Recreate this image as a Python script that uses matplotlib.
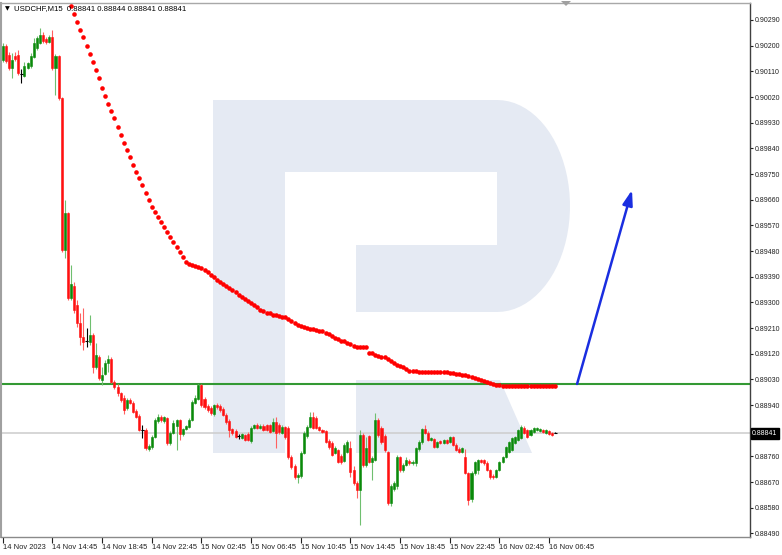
import matplotlib
matplotlib.use("Agg")
import matplotlib.pyplot as plt
import numpy as np
from matplotlib.patches import Polygon
from matplotlib.transforms import blended_transform_factory

plt.rcParams["font.family"] = ["Liberation Sans", "DejaVu Sans"]

# ---------------- data ----------------
symbol_title = "USDCHF,M15"
ohlc_last = "0.88841 0.88844 0.88841 0.88841"

opens = [0.90150,0.90199,0.90167,0.90122,0.90164,0.90167,0.90101,0.90094,0.90122,0.90129,
0.90160,0.90192,0.90209,0.90237,0.90223,0.90213,0.90230,0.90122,0.90164,0.90016,
0.89484,0.89613,0.89315,0.89357,0.89291,0.89228,0.89178,0.89165,0.89161,0.89186,
0.89073,0.89108,0.89028,0.89049,0.89087,0.89101,0.89021,0.89003,0.88982,0.88965,
0.88930,0.88958,0.88947,0.88919,0.88902,0.88853,0.88853,0.88786,0.88793,0.88828,
0.88884,0.88898,0.88884,0.88895,0.88807,0.88842,0.88867,0.88888,0.88839,0.88856,
0.88863,0.88888,0.88947,0.88961,0.89010,0.88961,0.88937,0.88930,0.88909,0.88940,
0.88937,0.88926,0.88905,0.88884,0.88856,0.88849,0.88832,0.88825,0.88835,0.88839,
0.88814,0.88860,0.88870,0.88860,0.88867,0.88870,0.88870,0.88849,0.88881,0.88870,
0.88842,0.88863,0.88860,0.88758,0.88726,0.88688,0.88691,0.88772,0.88832,0.88863,
0.88898,0.88895,0.88863,0.88853,0.88849,0.88814,0.88807,0.88772,0.88782,0.88761,
0.88744,0.88775,0.88789,0.88712,0.88667,0.88642,0.88835,0.88730,0.88832,0.88740,
0.88747,0.88888,0.88860,0.88832,0.88775,0.88597,0.88646,0.88656,0.88758,0.88712,
0.88730,0.88744,0.88737,0.88737,0.88786,0.88810,0.88856,0.88842,0.88818,0.88821,
0.88793,0.88814,0.88807,0.88818,0.88810,0.88828,0.88800,0.88786,0.88775,0.88758,
0.88702,0.88611,0.88702,0.88712,0.88747,0.88747,0.88737,0.88712,0.88691,0.88688,
0.88712,0.88740,0.88758,0.88775,0.88782,0.88807,0.88818,0.88825,0.88860,0.88853,
0.88835,0.88846,0.88853,0.88849,0.88853,0.88842,0.88849,0.88842,0.88841]

highs = [0.90209,0.90206,0.90178,0.90174,0.90178,0.90185,0.90118,0.90143,0.90143,0.90174,
0.90227,0.90234,0.90262,0.90248,0.90230,0.90237,0.90255,0.90171,0.90167,0.90020,
0.89659,0.89617,0.89431,0.89371,0.89308,0.89263,0.89280,0.89210,0.89256,0.89193,
0.89157,0.89115,0.89073,0.89098,0.89115,0.89108,0.89028,0.89014,0.88986,0.88975,
0.88965,0.88965,0.88954,0.88926,0.88909,0.88870,0.88860,0.88804,0.88835,0.88895,
0.88909,0.88905,0.88902,0.88898,0.88849,0.88888,0.88891,0.88891,0.88860,0.88870,
0.88895,0.88958,0.88975,0.89014,0.89014,0.88968,0.88944,0.88937,0.88944,0.88947,
0.88944,0.88933,0.88912,0.88891,0.88860,0.88856,0.88839,0.88842,0.88839,0.88846,
0.88867,0.88874,0.88877,0.88874,0.88874,0.88874,0.88874,0.88895,0.88898,0.88877,
0.88870,0.88867,0.88867,0.88765,0.88733,0.88702,0.88779,0.88849,0.88870,0.88916,
0.88916,0.88902,0.88867,0.88856,0.88853,0.88821,0.88814,0.88796,0.88786,0.88768,
0.88807,0.88818,0.88814,0.88726,0.88674,0.88853,0.88842,0.88828,0.88835,0.88761,
0.88912,0.88895,0.88867,0.88839,0.88779,0.88663,0.88674,0.88765,0.88761,0.88737,
0.88758,0.88751,0.88747,0.88793,0.88818,0.88860,0.88870,0.88849,0.88828,0.88825,
0.88814,0.88818,0.88821,0.88821,0.88832,0.88832,0.88807,0.88793,0.88793,0.88786,
0.88705,0.88709,0.88744,0.88751,0.88751,0.88751,0.88744,0.88716,0.88698,0.88716,
0.88744,0.88761,0.88796,0.88814,0.88828,0.88832,0.88856,0.88870,0.88867,0.88856,
0.88856,0.88863,0.88863,0.88860,0.88856,0.88856,0.88853,0.88846,0.88844]

lows = [0.90143,0.90139,0.90115,0.90087,0.90146,0.90097,0.90069,0.90090,0.90118,0.90122,
0.90157,0.90185,0.90206,0.90209,0.90206,0.90209,0.90115,0.90027,0.90009,0.89477,
0.89456,0.89308,0.89308,0.89263,0.89214,0.89150,0.89133,0.89143,0.89150,0.89052,
0.89066,0.89028,0.89010,0.89045,0.89056,0.89017,0.88996,0.88972,0.88951,0.88909,
0.88923,0.88944,0.88912,0.88895,0.88849,0.88825,0.88782,0.88779,0.88786,0.88825,
0.88877,0.88881,0.88877,0.88800,0.88800,0.88839,0.88782,0.88818,0.88832,0.88853,
0.88860,0.88884,0.88944,0.88958,0.88933,0.88926,0.88916,0.88905,0.88902,0.88926,
0.88916,0.88902,0.88874,0.88828,0.88835,0.88825,0.88821,0.88821,0.88814,0.88814,
0.88807,0.88856,0.88856,0.88856,0.88849,0.88849,0.88842,0.88846,0.88789,0.88839,
0.88839,0.88821,0.88751,0.88716,0.88681,0.88667,0.88684,0.88768,0.88825,0.88860,
0.88856,0.88856,0.88849,0.88842,0.88807,0.88786,0.88761,0.88768,0.88737,0.88733,
0.88740,0.88772,0.88688,0.88660,0.88614,0.88520,0.88723,0.88723,0.88737,0.88677,
0.88744,0.88828,0.88803,0.88775,0.88590,0.88586,0.88639,0.88646,0.88705,0.88705,
0.88726,0.88730,0.88730,0.88726,0.88779,0.88803,0.88839,0.88814,0.88814,0.88789,
0.88789,0.88803,0.88803,0.88803,0.88807,0.88796,0.88779,0.88772,0.88772,0.88698,
0.88590,0.88600,0.88695,0.88698,0.88737,0.88730,0.88709,0.88681,0.88681,0.88684,
0.88709,0.88737,0.88754,0.88772,0.88779,0.88803,0.88814,0.88821,0.88839,0.88825,
0.88832,0.88842,0.88849,0.88846,0.88842,0.88839,0.88835,0.88832,0.88841]

closes = [0.90199,0.90146,0.90122,0.90150,0.90153,0.90104,0.90101,0.90129,0.90139,0.90164,
0.90209,0.90227,0.90237,0.90216,0.90213,0.90230,0.90122,0.90164,0.90016,0.89484,
0.89613,0.89315,0.89364,0.89273,0.89228,0.89178,0.89161,0.89165,0.89186,0.89073,
0.89115,0.89035,0.89045,0.89087,0.89101,0.89021,0.89003,0.88982,0.88958,0.88923,
0.88958,0.88947,0.88916,0.88898,0.88853,0.88852,0.88789,0.88796,0.88828,0.88888,
0.88898,0.88888,0.88898,0.88807,0.88842,0.88877,0.88888,0.88839,0.88856,0.88867,
0.88888,0.88951,0.88965,0.89010,0.88940,0.88933,0.88923,0.88912,0.88940,0.88933,
0.88923,0.88905,0.88881,0.88853,0.88842,0.88828,0.88831,0.88839,0.88818,0.88818,
0.88860,0.88870,0.88860,0.88867,0.88853,0.88853,0.88846,0.88881,0.88842,0.88846,
0.88863,0.88828,0.88758,0.88723,0.88688,0.88695,0.88772,0.88842,0.88863,0.88898,
0.88860,0.88860,0.88853,0.88846,0.88810,0.88793,0.88765,0.88789,0.88740,0.88740,
0.88800,0.88810,0.88705,0.88667,0.88642,0.88835,0.88730,0.88789,0.88740,0.88754,
0.88888,0.88835,0.88810,0.88782,0.88597,0.88656,0.88667,0.88758,0.88712,0.88730,
0.88747,0.88737,0.88740,0.88789,0.88810,0.88856,0.88842,0.88818,0.88825,0.88793,
0.88810,0.88807,0.88818,0.88807,0.88828,0.88800,0.88782,0.88775,0.88789,0.88702,
0.88607,0.88702,0.88740,0.88747,0.88740,0.88737,0.88712,0.88688,0.88688,0.88712,
0.88740,0.88758,0.88793,0.88810,0.88825,0.88828,0.88853,0.88863,0.88842,0.88828,
0.88853,0.88860,0.88860,0.88856,0.88846,0.88853,0.88839,0.88835,0.88841]

# red dotted indicator, first value belongs to bar index ma_start
ma_start = 22
ma_values = [0.90339,0.90311,0.90284,0.90255,0.90229,0.90199,0.90171,0.90143,0.90114,0.90085,
0.90050,0.90022,0.89996,0.89972,0.89945,0.89916,0.89887,0.89860,0.89834,0.89809,
0.89783,0.89758,0.89735,0.89710,0.89684,0.89659,0.89635,0.89618,0.89600,0.89582,
0.89563,0.89546,0.89528,0.89510,0.89493,0.89478,0.89460,0.89443,0.89434,0.89431,
0.89427,0.89424,0.89419,0.89413,0.89405,0.89397,0.89389,0.89380,0.89373,0.89366,
0.89359,0.89352,0.89345,0.89336,0.89327,0.89320,0.89313,0.89306,0.89298,0.89291,
0.89284,0.89275,0.89270,0.89264,0.89261,0.89256,0.89254,0.89252,0.89250,0.89247,
0.89240,0.89233,0.89227,0.89222,0.89217,0.89212,0.89209,0.89207,0.89205,0.89203,
0.89201,0.89198,0.89193,0.89189,0.89182,0.89175,0.89170,0.89166,0.89163,0.89159,
0.89154,0.89148,0.89145,0.89144,0.89144,0.89144,0.89123,0.89121,0.89115,0.89112,
0.89108,0.89107,0.89103,0.89096,0.89087,0.89082,0.89077,0.89072,0.89066,0.89061,
0.89059,0.89058,0.89057,0.89057,0.89057,0.89057,0.89057,0.89057,0.89057,0.89057,
0.89057,0.89056,0.89052,0.89051,0.89049,0.89048,0.89047,0.89045,0.89042,0.89039,
0.89036,0.89033,0.89029,0.89026,0.89022,0.89019,0.89015,0.89012,0.89010,0.89008,
0.89008,0.89008,0.89008,0.89008,0.89008,0.89008,0.89008,0.89008,0.89008,0.89008,
0.89008,0.89008,0.89008,0.89008,0.89008,0.89008,0.89008]

support_level = 0.89014
current_price = 0.88841
arrow_from = (185.0, 0.89014)
arrow_to = (202.7, 0.89694)

time_tick_bars = [0, 16, 32, 48, 64, 80, 96, 112, 128, 144, 160, 176]
time_tick_labels = ["14 Nov 2023", "14 Nov 14:45", "14 Nov 18:45", "14 Nov 22:45",
                    "15 Nov 02:45", "15 Nov 06:45", "15 Nov 10:45", "15 Nov 14:45",
                    "15 Nov 18:45", "15 Nov 22:45", "16 Nov 02:45", "16 Nov 06:45"]
# 0.88850 is hidden behind the current-price box in the reference
price_ticks = [0.88490, 0.88580, 0.88670, 0.88760, 0.88940, 0.89030, 0.89120,
               0.89210, 0.89300, 0.89390, 0.89480, 0.89570, 0.89660, 0.89750, 0.89840,
               0.89930, 0.90020, 0.90110, 0.90200, 0.90290]

# ---------------- figure ----------------
W, H = 782, 555
fig = plt.figure(figsize=(W / 100, H / 100), dpi=100)
fig.patch.set_facecolor("white")
ax = fig.add_axes([1 / W, 18 / H, 749 / W, 534 / H])
ax.set_facecolor("white")
ax.set_xlim(-0.55, 240.7)
ax.set_ylim(0.884774, 0.903496)

def px(x, y):
    return (x / W, 1 - y / H)

wm_color = "#e5eaf3"
# watermark "R" (decorative)
t = np.linspace(-np.pi / 2, np.pi / 2, 40)
arc = [px(497 + 73 * np.cos(a), 206 + 106 * np.sin(a)) for a in t]
bowl = [px(285, 100)] + arc + [px(356, 312), px(356, 245), px(497, 245), px(497, 172), px(285, 172)]
stem = [px(213, 100), px(285, 100), px(285, 453), px(213, 453)]
leg = [px(356, 380), px(500, 380), px(532, 453), px(356, 453)]
for poly in (bowl, stem, leg):
    ax.add_patch(Polygon(poly, closed=True, transform=fig.transFigure,
                         facecolor=wm_color, edgecolor="none", zorder=0))

# current price line and support line
ax.axhline(current_price, color="#cfcfcf", lw=1.2, zorder=1)
ax.axhline(support_level, color="#339933", lw=1.5, zorder=2)

# candles
o = np.array(opens); h = np.array(highs); l = np.array(lows); c = np.array(closes)
x = np.arange(len(o))
up_col, dn_col, doji_col = "#0a8a0a", "#ff1010", "#000000"
cols = []
for oi, ci in zip(o, c):
    if abs(ci - oi) < 1.5e-5:
        cols.append(doji_col)
    elif ci > oi:
        cols.append(up_col)
    else:
        cols.append(dn_col)
wick_cols = []
for col in cols:
    if col == up_col:
        wick_cols.append("#6fbf6f")
    elif col == dn_col:
        wick_cols.append("#ff6060")
    else:
        wick_cols.append("#000000")
ax.vlines(x, l, h, colors=wick_cols, lw=0.8, zorder=3)
bottoms = np.minimum(o, c)
heights = np.abs(c - o)
ax.bar(x, heights, bottom=bottoms, width=0.66, color=cols, edgecolor=cols,
       linewidth=0.4, zorder=4)
for xi, oi, ci, col in zip(x, o, c, cols):
    if col == doji_col:
        ax.hlines(oi, xi - 0.5, xi + 0.5, colors="#000000", lw=0.8, zorder=4)

# red dotted indicator
ma_x = np.arange(ma_start, ma_start + len(ma_values))
ax.plot(ma_x, ma_values, linestyle="none", marker="o", markersize=3.3,
        markerfacecolor="#ff0000", markeredgewidth=0, zorder=5)

# blue arrow
ax.annotate("", xy=arrow_to, xytext=arrow_from,
            arrowprops=dict(arrowstyle="-|>,head_length=0.9,head_width=0.3",
                            color="#1a2ee0", lw=1.8, shrinkA=0, shrinkB=0),
            zorder=6)

# axes styling
for side, col, lw in (("top", "#a8a8a8", 1.0), ("left", "#a0a0a0", 1.5),
                      ("bottom", "#8a8a8a", 1.0), ("right", "#404040", 1.0)):
    ax.spines[side].set_color(col)
    ax.spines[side].set_linewidth(lw)

ax.yaxis.tick_right()
ax.set_yticks(price_ticks)
ax.set_yticklabels([f"{p:.5f}" for p in price_ticks])
ax.tick_params(axis="y", direction="out", length=2.5, width=0.8, pad=1.2,
               labelsize=5.0, colors="#202020")
ax.set_xticks(time_tick_bars)
ax.set_xticklabels(time_tick_labels)
ax.tick_params(axis="x", direction="out", length=4, width=0.8, pad=1,
               labelsize=5.4, colors="#202020")
for lab in ax.get_xticklabels():
    lab.set_horizontalalignment("left")

# current price label box
trans = blended_transform_factory(ax.transAxes, ax.transData)
ax.text(1.003, current_price, f"{current_price:.5f}", transform=trans,
        ha="left", va="center", fontsize=5.0, color="white", zorder=10,
        bbox=dict(boxstyle="square,pad=0.25", facecolor="black", edgecolor="black"),
        clip_on=False)

# title
fig.text(5 / W, 1 - 8.5 / H, "\u25bc", fontsize=4.5, color="black", va="center", ha="left",
         family=["DejaVu Sans"])
fig.text(14 / W, 1 - 8.5 / H, symbol_title + "  " + ohlc_last, fontsize=5.6,
         color="black", va="center", ha="left")

# shift marker at top
fig.patches.append(Polygon([px(561, 1), px(571, 1), px(566, 6)], closed=True,
                           transform=fig.transFigure, facecolor="#a0a0a0",
                           edgecolor="none"))

fig.savefig("out.png", dpi=100, facecolor="white")
